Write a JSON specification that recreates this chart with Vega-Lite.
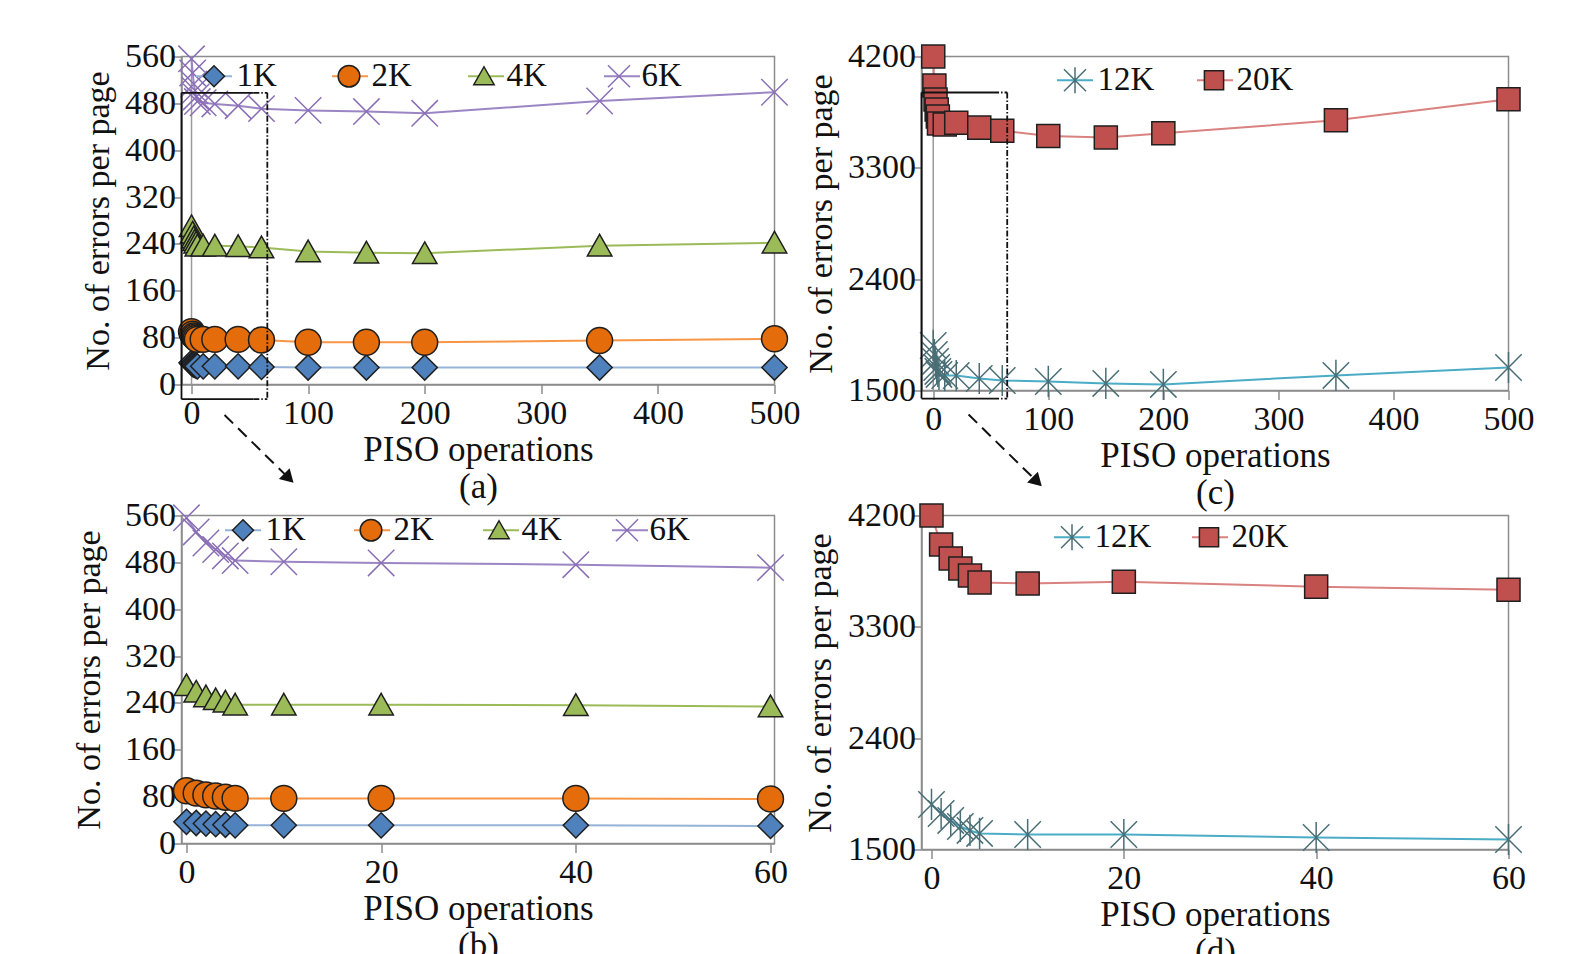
{
  "$schema": "https://vega.github.io/schema/vega-lite/v6.json",
  "background": "white",
  "padding": {"left": 71.5, "top": 38.5, "right": 10, "bottom": 5},
  "config": {
    "font": "Liberation Serif",
    "view": {"stroke": "#8c8c8c", "strokeWidth": 1.5},
    "axis": {
      "grid": false, "domainColor": "#8c8c8c", "domainWidth": 1.5,
      "tickColor": "#8c8c8c", "tickWidth": 1.5, "tickSize": 9,
      "labelFont": "Liberation Serif", "labelFontSize": 34, "labelColor": "#111111",
      "titleFont": "Liberation Serif", "titleFontSize": 35, "titleFontWeight": "normal", "titleColor": "#111111",
      "labelFlush": false
    },
    "axisY": {"tickSize": 8, "labelPadding": -2, "titleFontSize": 34},
    "axisX": {"labelPadding": 3, "titlePadding": 2}
  },
  "datasets": {
    "small": [
      {"series": "1K", "x": 0, "y": 37}, {"series": "1K", "x": 1, "y": 35}, {"series": "1K", "x": 2, "y": 34}, {"series": "1K", "x": 3, "y": 33}, {"series": "1K", "x": 4, "y": 32}, {"series": "1K", "x": 5, "y": 31}, {"series": "1K", "x": 10, "y": 31}, {"series": "1K", "x": 20, "y": 31}, {"series": "1K", "x": 40, "y": 31}, {"series": "1K", "x": 60, "y": 30}, {"series": "1K", "x": 100, "y": 29}, {"series": "1K", "x": 150, "y": 29}, {"series": "1K", "x": 200, "y": 29}, {"series": "1K", "x": 350, "y": 29}, {"series": "1K", "x": 500, "y": 29},
      {"series": "2K", "x": 0, "y": 90}, {"series": "2K", "x": 1, "y": 86}, {"series": "2K", "x": 2, "y": 83}, {"series": "2K", "x": 3, "y": 81}, {"series": "2K", "x": 4, "y": 79}, {"series": "2K", "x": 5, "y": 77}, {"series": "2K", "x": 10, "y": 77}, {"series": "2K", "x": 20, "y": 77}, {"series": "2K", "x": 40, "y": 77}, {"series": "2K", "x": 60, "y": 76}, {"series": "2K", "x": 100, "y": 72}, {"series": "2K", "x": 150, "y": 72}, {"series": "2K", "x": 200, "y": 72}, {"series": "2K", "x": 350, "y": 75}, {"series": "2K", "x": 500, "y": 78},
      {"series": "4K", "x": 0, "y": 270}, {"series": "4K", "x": 1, "y": 259}, {"series": "4K", "x": 2, "y": 251}, {"series": "4K", "x": 3, "y": 246}, {"series": "4K", "x": 4, "y": 242}, {"series": "4K", "x": 5, "y": 237}, {"series": "4K", "x": 10, "y": 237}, {"series": "4K", "x": 20, "y": 237}, {"series": "4K", "x": 40, "y": 236}, {"series": "4K", "x": 60, "y": 234}, {"series": "4K", "x": 100, "y": 227}, {"series": "4K", "x": 150, "y": 225}, {"series": "4K", "x": 200, "y": 224}, {"series": "4K", "x": 350, "y": 237}, {"series": "4K", "x": 500, "y": 242},
      {"series": "6K", "x": 0, "y": 556}, {"series": "6K", "x": 1, "y": 532}, {"series": "6K", "x": 2, "y": 513}, {"series": "6K", "x": 3, "y": 502}, {"series": "6K", "x": 4, "y": 491}, {"series": "6K", "x": 5, "y": 483}, {"series": "6K", "x": 10, "y": 481}, {"series": "6K", "x": 20, "y": 479}, {"series": "6K", "x": 40, "y": 476}, {"series": "6K", "x": 60, "y": 471}, {"series": "6K", "x": 100, "y": 468}, {"series": "6K", "x": 150, "y": 466}, {"series": "6K", "x": 200, "y": 463}, {"series": "6K", "x": 350, "y": 484}, {"series": "6K", "x": 500, "y": 499}
    ],
    "large": [
      {"series": "12K", "x": 0, "y": 1864}, {"series": "12K", "x": 1, "y": 1791}, {"series": "12K", "x": 2, "y": 1735}, {"series": "12K", "x": 3, "y": 1686}, {"series": "12K", "x": 4, "y": 1654}, {"series": "12K", "x": 5, "y": 1630}, {"series": "12K", "x": 10, "y": 1621}, {"series": "12K", "x": 20, "y": 1621}, {"series": "12K", "x": 40, "y": 1597}, {"series": "12K", "x": 60, "y": 1581}, {"series": "12K", "x": 100, "y": 1573}, {"series": "12K", "x": 150, "y": 1557}, {"series": "12K", "x": 200, "y": 1549}, {"series": "12K", "x": 350, "y": 1622}, {"series": "12K", "x": 500, "y": 1686},
      {"series": "20K", "x": 0, "y": 4200}, {"series": "20K", "x": 1, "y": 3966}, {"series": "20K", "x": 2, "y": 3853}, {"series": "20K", "x": 3, "y": 3772}, {"series": "20K", "x": 4, "y": 3715}, {"series": "20K", "x": 5, "y": 3658}, {"series": "20K", "x": 10, "y": 3650}, {"series": "20K", "x": 20, "y": 3665}, {"series": "20K", "x": 40, "y": 3625}, {"series": "20K", "x": 60, "y": 3600}, {"series": "20K", "x": 100, "y": 3557}, {"series": "20K", "x": 150, "y": 3546}, {"series": "20K", "x": 200, "y": 3579}, {"series": "20K", "x": 350, "y": 3684}, {"series": "20K", "x": 500, "y": 3854}
    ]
  },
  "columns": 2,
  "bounds": "flush",
  "align": "all",
  "spacing": {"row": 125, "column": 147},
  "resolve": {
    "scale": {"color": "independent", "fill": "independent", "stroke": "independent", "shape": "independent"},
    "legend": {"color": "independent", "fill": "independent", "stroke": "independent", "shape": "independent"}
  },
  "concat": [
    {
      "width": 593, "height": 328,
      "layer": [
        {
          "data": {"values": [{}]},
          "mark": {"type": "rule", "color": "#9a9a9a", "strokeWidth": 1.5},
          "encoding": {
            "x": {"datum": 0, "type": "quantitative", "scale": {"domain": [-8.6, 500], "nice": false, "zero": false}},
            "y": {"datum": 0, "type": "quantitative", "scale": {"domain": [0, 560], "nice": false, "zero": false}},
            "y2": {"datum": 560}
          }
        },
        {
          "data": {"name": "small"},
          "mark": {"type": "line", "strokeWidth": 2},
          "encoding": {
            "x": {"field": "x", "type": "quantitative", "scale": {"domain": [-8.6, 500], "nice": false, "zero": false},
                  "axis": {"values": [0, 100, 200, 300, 400, 500], "title": ["PISO operations", "(a)"], "titleLineHeight": 37}},
            "y": {"field": "y", "type": "quantitative", "scale": {"domain": [0, 560], "nice": false, "zero": false},
                  "axis": {"values": [0, 80, 160, 240, 320, 400, 480, 560], "title": "No. of errors per page", "titleX": -83, "titleBaseline": "middle"}},
            "color": {"field": "series", "type": "nominal",
                      "scale": {"domain": ["1K", "2K", "4K", "6K"], "range": ["#95b3d7", "#f79646", "#9bbb59", "#9b85c4"]},
                      "legend": {"orient": "none", "legendX": 16, "legendY": 3, "direction": "horizontal", "title": null, "padding": 0,
                                 "symbolType": "M-1.8,0H1.8", "symbolSize": 400, "symbolStrokeWidth": 2, "labelOpacity": 0,
                                 "labelFont": "Liberation Serif", "labelFontSize": 33, "labelOffset": 6, "columnPadding": 50, "zindex": 1}}
          }
        },
        {
          "data": {"name": "small"},
          "mark": {"type": "point", "filled": true, "opacity": 1, "size": 576, "strokeWidth": 1.5},
          "encoding": {
            "x": {"field": "x", "type": "quantitative"},
            "y": {"field": "y", "type": "quantitative"},
            "fill": {"field": "series", "type": "nominal", "scale": {"range": ["#4f81bd", "#e46c0a", "#9bbb59", "#8064a2"]}},
            "stroke": {"field": "series", "type": "nominal", "scale": {"range": ["#1f1f1f", "#1f1f1f", "#1f1f1f", "#8a6fb5"]}},
            "shape": {"field": "series", "type": "nominal",
                      "scale": {"range": [
                        "M-1.8,0M1.8,0M0,-1.05L1.05,0L0,1.05L-1.05,0Z",
                        "M-1.8,0M1.8,0M-1.08,0A1.08,1.08,0,1,0,1.08,0A1.08,1.08,0,1,0,-1.08,0Z",
                        "M-1.8,0M1.8,0M0,-0.95L1.02,0.85L-1.02,0.85Z",
                        "M-1.8,0M1.8,0M-1.1,-1.1L1.1,1.1M-1.1,1.1L1.1,-1.1"]},
                      "legend": {"orient": "none", "legendX": 16, "legendY": 3, "direction": "horizontal", "title": null, "padding": 0,
                                 "symbolSize": 400, "symbolStrokeWidth": 1.5, "labelColor": "#111111",
                                 "labelFont": "Liberation Serif", "labelFontSize": 33, "labelOffset": 6, "columnPadding": 50, "zindex": 2}}
          }
        },
        {
          "data": {"values": [{"x": -8.6, "y": -25, "x2": -8.6, "y2": 498}, {"x": -8.6, "y": 498, "x2": 53, "y2": 498}, {"x": -8.6, "y": -25, "x2": 53, "y2": -25}]},
          "mark": {"type": "rule", "color": "#111111", "strokeWidth": 1.8},
          "encoding": {
            "x": {"field": "x", "type": "quantitative"}, "x2": {"field": "x2"},
            "y": {"field": "y", "type": "quantitative"}, "y2": {"field": "y2"}
          }
        },
        {
          "data": {"values": [{"x": 53, "y": 498, "x2": 65, "y2": 498}, {"x": 65, "y": 498, "x2": 65, "y2": -25}, {"x": 53, "y": -25, "x2": 65, "y2": -25}]},
          "mark": {"type": "rule", "color": "#111111", "strokeWidth": 1.8, "strokeDash": [6, 2, 1.5, 2]},
          "encoding": {
            "x": {"field": "x", "type": "quantitative"}, "x2": {"field": "x2"},
            "y": {"field": "y", "type": "quantitative"}, "y2": {"field": "y2"}
          }
        },
        {
          "data": {"values": [{"x": 28.3, "y": -52, "x2": 83.5, "y2": -160}]},
          "mark": {"type": "rule", "color": "#111111", "strokeWidth": 2, "strokeDash": [12, 7]},
          "encoding": {
            "x": {"field": "x", "type": "quantitative"}, "x2": {"field": "x2"},
            "y": {"field": "y", "type": "quantitative"}, "y2": {"field": "y2"}
          }
        },
        {
          "data": {"values": [{"x": 28.3, "y": -52, "x2": 83.5, "y2": -160}]},
          "mark": {"type": "point", "shape": "triangle-up", "angle": 135, "size": 230, "filled": true, "color": "#111111", "opacity": 1},
          "encoding": {
            "x": {"field": "x2", "type": "quantitative"},
            "y": {"field": "y2", "type": "quantitative"}
          }
        }
      ]
    },
    {
      "width": 587, "height": 334,
      "layer": [
        {
          "data": {"values": [{}]},
          "mark": {"type": "rule", "color": "#9a9a9a", "strokeWidth": 1.5},
          "encoding": {
            "x": {"datum": 0, "type": "quantitative", "scale": {"domain": [-10.2, 500], "nice": false, "zero": false}},
            "y": {"datum": 1500, "type": "quantitative", "scale": {"domain": [1500, 4200], "nice": false, "zero": false}},
            "y2": {"datum": 4200}
          }
        },
        {
          "data": {"name": "large"},
          "mark": {"type": "line", "strokeWidth": 2},
          "encoding": {
            "x": {"field": "x", "type": "quantitative", "scale": {"domain": [-10.2, 500], "nice": false, "zero": false},
                  "axis": {"values": [0, 100, 200, 300, 400, 500], "title": ["PISO operations", "(c)"], "titleLineHeight": 37}},
            "y": {"field": "y", "type": "quantitative", "scale": {"domain": [1500, 4200], "nice": false, "zero": false},
                  "axis": {"values": [1500, 2400, 3300, 4200], "format": "d", "title": "No. of errors per page", "titleX": -100, "titleBaseline": "middle"}},
            "color": {"field": "series", "type": "nominal",
                      "scale": {"domain": ["12K", "20K"], "range": ["#4bacc6", "#d9827f"]},
                      "legend": {"orient": "none", "legendX": 137, "legendY": 7, "direction": "horizontal", "title": null, "padding": 0,
                                 "symbolType": "M-1.8,0H1.8", "symbolSize": 400, "symbolStrokeWidth": 2, "labelOpacity": 0,
                                 "labelFont": "Liberation Serif", "labelFontSize": 33, "labelOffset": 6, "columnPadding": 38, "zindex": 1}}
          }
        },
        {
          "data": {"name": "large"},
          "mark": {"type": "point", "filled": true, "opacity": 1, "size": 576, "strokeWidth": 1.5},
          "encoding": {
            "x": {"field": "x", "type": "quantitative"},
            "y": {"field": "y", "type": "quantitative"},
            "fill": {"field": "series", "type": "nominal", "scale": {"range": ["#4bacc6", "#c0504d"]}},
            "stroke": {"field": "series", "type": "nominal", "scale": {"range": ["#4a6e75", "#1f1f1f"]}},
            "shape": {"field": "series", "type": "nominal",
                      "scale": {"range": [
                        "M-1.8,0M1.8,0M-1.1,-1.1L1.1,1.1M-1.1,1.1L1.1,-1.1M0,-1.3L0,1.3",
                        "M-1.8,0M1.8,0M-0.96,-0.96H0.96V0.96H-0.96Z"]},
                      "legend": {"orient": "none", "legendX": 137, "legendY": 7, "direction": "horizontal", "title": null, "padding": 0,
                                 "symbolSize": 400, "symbolStrokeWidth": 1.5, "labelColor": "#111111",
                                 "labelFont": "Liberation Serif", "labelFontSize": 33, "labelOffset": 6, "columnPadding": 38, "zindex": 2}}
          }
        },
        {
          "data": {"values": [{"x": -10.2, "y": 1435, "x2": -10.2, "y2": 3909}, {"x": -10.2, "y": 3909, "x2": 52, "y2": 3909}, {"x": -10.2, "y": 1435, "x2": 52, "y2": 1435}]},
          "mark": {"type": "rule", "color": "#111111", "strokeWidth": 1.8},
          "encoding": {
            "x": {"field": "x", "type": "quantitative"}, "x2": {"field": "x2"},
            "y": {"field": "y", "type": "quantitative"}, "y2": {"field": "y2"}
          }
        },
        {
          "data": {"values": [{"x": 52, "y": 3909, "x2": 64.3, "y2": 3909}, {"x": 64.3, "y": 3909, "x2": 64.3, "y2": 1435}, {"x": 52, "y": 1435, "x2": 64.3, "y2": 1435}]},
          "mark": {"type": "rule", "color": "#111111", "strokeWidth": 1.8, "strokeDash": [6, 2, 1.5, 2]},
          "encoding": {
            "x": {"field": "x", "type": "quantitative"}, "x2": {"field": "x2"},
            "y": {"field": "y", "type": "quantitative"}, "y2": {"field": "y2"}
          }
        },
        {
          "data": {"values": [{"x": 30.7, "y": 1306, "x2": 90.3, "y2": 763}]},
          "mark": {"type": "rule", "color": "#111111", "strokeWidth": 2, "strokeDash": [12, 7]},
          "encoding": {
            "x": {"field": "x", "type": "quantitative"}, "x2": {"field": "x2"},
            "y": {"field": "y", "type": "quantitative"}, "y2": {"field": "y2"}
          }
        },
        {
          "data": {"values": [{"x": 30.7, "y": 1306, "x2": 90.3, "y2": 763}]},
          "mark": {"type": "point", "shape": "triangle-up", "angle": 135, "size": 230, "filled": true, "color": "#111111", "opacity": 1},
          "encoding": {
            "x": {"field": "x2", "type": "quantitative"},
            "y": {"field": "y2", "type": "quantitative"}
          }
        }
      ]
    },
    {
      "width": 593, "height": 328,
      "layer": [
        {
          "data": {"name": "small"},
          "transform": [{"filter": {"field": "x", "lte": 60}}],
          "mark": {"type": "line", "strokeWidth": 2},
          "encoding": {
            "x": {"field": "x", "type": "quantitative", "scale": {"domain": [-0.51, 60.41], "nice": false, "zero": false},
                  "axis": {"values": [0, 20, 40, 60], "title": ["PISO operations", "(b)"], "titleLineHeight": 37}},
            "y": {"field": "y", "type": "quantitative", "scale": {"domain": [0, 560], "nice": false, "zero": false},
                  "axis": {"values": [0, 80, 160, 240, 320, 400, 480, 560], "title": "No. of errors per page", "titleX": -92, "titleBaseline": "middle"}},
            "color": {"field": "series", "type": "nominal",
                      "scale": {"domain": ["1K", "2K", "4K", "6K"], "range": ["#95b3d7", "#f79646", "#9bbb59", "#9b85c4"]},
                      "legend": {"orient": "none", "legendX": 45, "legendY": -2, "direction": "horizontal", "title": null, "padding": 0,
                                 "symbolType": "M-1.8,0H1.8", "symbolSize": 400, "symbolStrokeWidth": 2, "labelOpacity": 0,
                                 "labelFont": "Liberation Serif", "labelFontSize": 33, "labelOffset": 6, "columnPadding": 43, "zindex": 1}}
          }
        },
        {
          "data": {"name": "small"},
          "transform": [{"filter": {"field": "x", "lte": 60}}],
          "mark": {"type": "point", "filled": true, "opacity": 1, "size": 576, "strokeWidth": 1.5},
          "encoding": {
            "x": {"field": "x", "type": "quantitative"},
            "y": {"field": "y", "type": "quantitative"},
            "fill": {"field": "series", "type": "nominal", "scale": {"range": ["#4f81bd", "#e46c0a", "#9bbb59", "#8064a2"]}},
            "stroke": {"field": "series", "type": "nominal", "scale": {"range": ["#1f1f1f", "#1f1f1f", "#1f1f1f", "#8a6fb5"]}},
            "shape": {"field": "series", "type": "nominal",
                      "scale": {"range": [
                        "M-1.8,0M1.8,0M0,-1.05L1.05,0L0,1.05L-1.05,0Z",
                        "M-1.8,0M1.8,0M-1.08,0A1.08,1.08,0,1,0,1.08,0A1.08,1.08,0,1,0,-1.08,0Z",
                        "M-1.8,0M1.8,0M0,-0.95L1.02,0.85L-1.02,0.85Z",
                        "M-1.8,0M1.8,0M-1.1,-1.1L1.1,1.1M-1.1,1.1L1.1,-1.1"]},
                      "legend": {"orient": "none", "legendX": 45, "legendY": -2, "direction": "horizontal", "title": null, "padding": 0,
                                 "symbolSize": 400, "symbolStrokeWidth": 1.5, "labelColor": "#111111",
                                 "labelFont": "Liberation Serif", "labelFontSize": 33, "labelOffset": 6, "columnPadding": 43, "zindex": 2}}
          }
        }
      ]
    },
    {
      "width": 587, "height": 334,
      "layer": [
        {
          "data": {"name": "large"},
          "transform": [{"filter": {"field": "x", "lte": 60}}],
          "mark": {"type": "line", "strokeWidth": 2},
          "encoding": {
            "x": {"field": "x", "type": "quantitative", "scale": {"domain": [-1.04, 60], "nice": false, "zero": false},
                  "axis": {"values": [0, 20, 40, 60], "title": ["PISO operations", "(d)"], "titleLineHeight": 37}},
            "y": {"field": "y", "type": "quantitative", "scale": {"domain": [1500, 4200], "nice": false, "zero": false},
                  "axis": {"values": [1500, 2400, 3300, 4200], "format": "d", "title": "No. of errors per page", "titleX": -101, "titleBaseline": "middle"}},
            "color": {"field": "series", "type": "nominal",
                      "scale": {"domain": ["12K", "20K"], "range": ["#4bacc6", "#d9827f"]},
                      "legend": {"orient": "none", "legendX": 134, "legendY": 5, "direction": "horizontal", "title": null, "padding": 0,
                                 "symbolType": "M-1.8,0H1.8", "symbolSize": 400, "symbolStrokeWidth": 2, "labelOpacity": 0,
                                 "labelFont": "Liberation Serif", "labelFontSize": 33, "labelOffset": 6, "columnPadding": 36, "zindex": 1}}
          }
        },
        {
          "data": {"name": "large"},
          "transform": [{"filter": {"field": "x", "lte": 60}}],
          "mark": {"type": "point", "filled": true, "opacity": 1, "size": 576, "strokeWidth": 1.5},
          "encoding": {
            "x": {"field": "x", "type": "quantitative"},
            "y": {"field": "y", "type": "quantitative"},
            "fill": {"field": "series", "type": "nominal", "scale": {"range": ["#4bacc6", "#c0504d"]}},
            "stroke": {"field": "series", "type": "nominal", "scale": {"range": ["#4a6e75", "#1f1f1f"]}},
            "shape": {"field": "series", "type": "nominal",
                      "scale": {"range": [
                        "M-1.8,0M1.8,0M-1.1,-1.1L1.1,1.1M-1.1,1.1L1.1,-1.1M0,-1.3L0,1.3",
                        "M-1.8,0M1.8,0M-0.96,-0.96H0.96V0.96H-0.96Z"]},
                      "legend": {"orient": "none", "legendX": 134, "legendY": 5, "direction": "horizontal", "title": null, "padding": 0,
                                 "symbolSize": 400, "symbolStrokeWidth": 1.5, "labelColor": "#111111",
                                 "labelFont": "Liberation Serif", "labelFontSize": 33, "labelOffset": 6, "columnPadding": 36, "zindex": 2}}
          }
        }
      ]
    }
  ]
}
